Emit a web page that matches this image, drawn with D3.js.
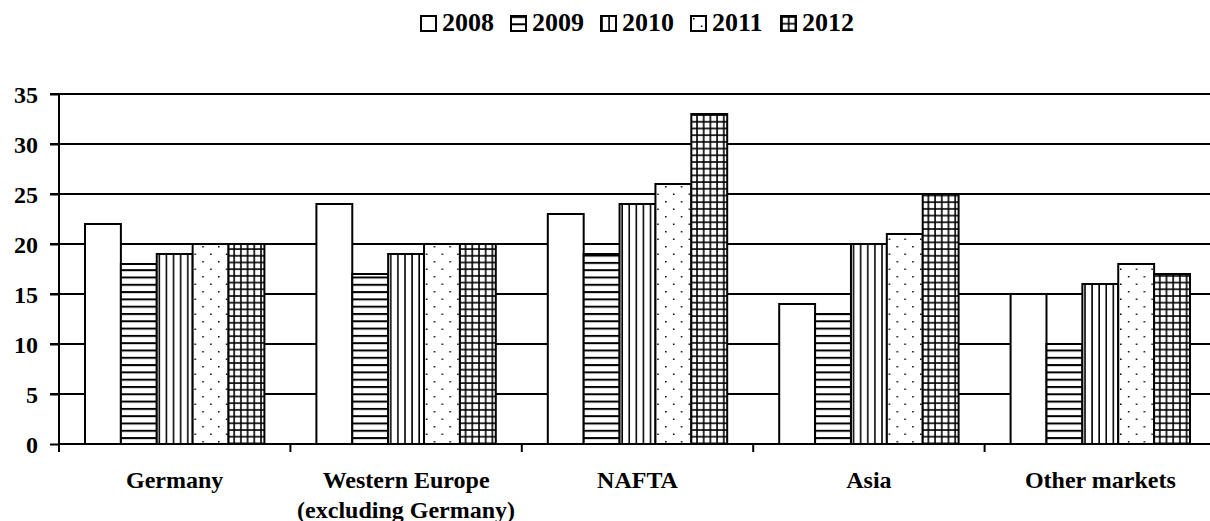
<!DOCTYPE html>
<html>
<head>
<meta charset="utf-8">
<script src="https://cdn.jsdelivr.net/npm/d3@7"></script>
</head>
<body style="margin:0;background:#fff">
<svg id="chart" width="1210" height="521" style="display:block"></svg>
<script>
// data
const categories = ["Germany", "Western Europe\n(excluding Germany)", "NAFTA", "Asia", "Other markets"];
const years = ["2008", "2009", "2010", "2011", "2012"];
const values2008 = [22, 24, 23, 14, 15];
const values2009 = [18, 17, 19, 13, 10];
const values2010 = [19, 19, 24, 20, 16];
const values2011 = [20, 20, 26, 21, 18];
const values2012 = [20, 20, 33, 25, 17];
const yTicks = [0, 5, 10, 15, 20, 25, 30, 35];

const seriesValues = [values2008, values2009, values2010, values2011, values2012];
const fills = ["#fff", "url(#p2009)", "url(#p2010)", "url(#p2011)", "url(#p2012)"];
const FONT = "'Liberation Serif', 'Times New Roman', serif";

const svg = d3.select("#chart");
const margin = { left: 59, right: -6, top: 94, bottom: 77 };
const width = 1210 - margin.left - margin.right;
const height = 521 - margin.top - margin.bottom;

function styleText(sel, size) {
  sel.style("font-family", FONT).style("font-weight", "bold").style("font-size", size + "px").attr("fill", "#000");
}

// patterns
const defs = svg.append("defs");
const p09 = defs.append("pattern").attr("id", "p2009").attr("patternUnits", "userSpaceOnUse")
  .attr("width", 8).attr("height", 7.3);
p09.append("rect").attr("width", 8).attr("height", 7.3).attr("fill", "#fff");
p09.append("line").attr("x1", 0).attr("x2", 8).attr("y1", 1).attr("y2", 1).attr("stroke", "#000").attr("stroke-width", 2);

const p10 = defs.append("pattern").attr("id", "p2010").attr("patternUnits", "userSpaceOnUse")
  .attr("width", 7.1).attr("height", 8);
p10.append("rect").attr("width", 7.1).attr("height", 8).attr("fill", "#fff");
p10.append("line").attr("x1", 1).attr("x2", 1).attr("y1", 0).attr("y2", 8).attr("stroke", "#000").attr("stroke-width", 1.6);

const p11 = defs.append("pattern").attr("id", "p2011").attr("patternUnits", "userSpaceOnUse")
  .attr("width", 15.7).attr("height", 15);
p11.append("rect").attr("width", 15.7).attr("height", 15).attr("fill", "#fff");
p11.append("rect").attr("x", 2).attr("y", 2).attr("width", 1.5).attr("height", 1.5).attr("fill", "#000");
p11.append("rect").attr("x", 9.85).attr("y", 9.5).attr("width", 1.5).attr("height", 1.5).attr("fill", "#000");

const p12 = defs.append("pattern").attr("id", "p2012").attr("patternUnits", "userSpaceOnUse")
  .attr("width", 6.7).attr("height", 6.7);
p12.append("rect").attr("width", 6.7).attr("height", 6.7).attr("fill", "#fff");
p12.append("line").attr("x1", 1).attr("x2", 1).attr("y1", 0).attr("y2", 6.7).attr("stroke", "#000").attr("stroke-width", 1.6);
p12.append("line").attr("x1", 0).attr("x2", 6.7).attr("y1", 1).attr("y2", 1).attr("stroke", "#000").attr("stroke-width", 1.6);

const g = svg.append("g").attr("transform", `translate(${margin.left},${margin.top})`);

const x0 = d3.scaleBand().domain(categories).range([0, width]).paddingInner(0).paddingOuter(0);
const x1 = d3.scaleBand().domain(years).range([26, x0.bandwidth() - 26]);
const y = d3.scaleLinear().domain([0, 35]).range([height, 0]);

// gridlines
g.append("g").selectAll("line").data(yTicks.filter(d => d > 0)).join("line")
  .attr("x1", -9).attr("x2", width).attr("y1", d => y(d)).attr("y2", d => y(d))
  .attr("stroke", "#000").attr("stroke-width", 2);

// bars
const groups = g.append("g").selectAll("g").data(categories).join("g")
  .attr("transform", d => `translate(${x0(d)},0)`);
groups.selectAll("rect")
  .data((d, i) => years.map((yr, k) => ({ yr, k, v: seriesValues[k][i] })))
  .join("rect")
  .attr("x", d => x1(d.yr))
  .attr("width", x1.bandwidth())
  .attr("y", d => y(d.v))
  .attr("height", d => y(0) - y(d.v))
  .attr("fill", d => fills[d.k])
  .attr("stroke", "#000").attr("stroke-width", 2);

// y axis
const yAxis = g.append("g").call(d3.axisLeft(y).tickValues(yTicks).tickSize(9).tickSizeOuter(0));
yAxis.select(".domain").attr("stroke-width", 2).attr("d", `M0,${height}V${y(35)}`);
yAxis.selectAll(".tick line").attr("stroke-width", 2);
yAxis.selectAll(".tick text").attr("x", -21).attr("dy", "0.34em").call(styleText, 24);

// x axis
const xAxisG = g.append("g").attr("transform", `translate(0,${height})`);
xAxisG.append("line").attr("x1", 0).attr("x2", width).attr("stroke", "#000").attr("stroke-width", 2);
xAxisG.selectAll(".xt").data(d3.range(categories.length + 1)).join("line")
  .attr("class", "xt")
  .attr("x1", i => i * x0.bandwidth()).attr("x2", i => i * x0.bandwidth())
  .attr("y1", 0).attr("y2", 8).attr("stroke", "#000").attr("stroke-width", 2);
const xl = xAxisG.selectAll(".xl").data(categories).join("text")
  .attr("class", "xl")
  .attr("text-anchor", "middle")
  .call(styleText, 24)
  .attr("transform", d => `translate(${x0(d) + x0.bandwidth() / 2},44)`);
xl.selectAll("tspan").data(d => d.split("\n")).join("tspan")
  .attr("x", 0).attr("dy", (d, i) => i === 0 ? 0 : 30).text(d => d);

// legend
const legend = svg.append("g").attr("transform", "translate(421,16)");
const lg = legend.selectAll("g").data(years).join("g")
  .attr("transform", (d, i) => `translate(${i * 90},0)`);
lg.append("rect").attr("x", 0).attr("y", 0).attr("width", 15).attr("height", 15)
  .attr("fill", (d, i) => fills[i]).attr("stroke", "#000").attr("stroke-width", 2);
lg.append("text").attr("x", 21).attr("y", 15).call(styleText, 26).text(d => d);
</script>
</body>
</html>
